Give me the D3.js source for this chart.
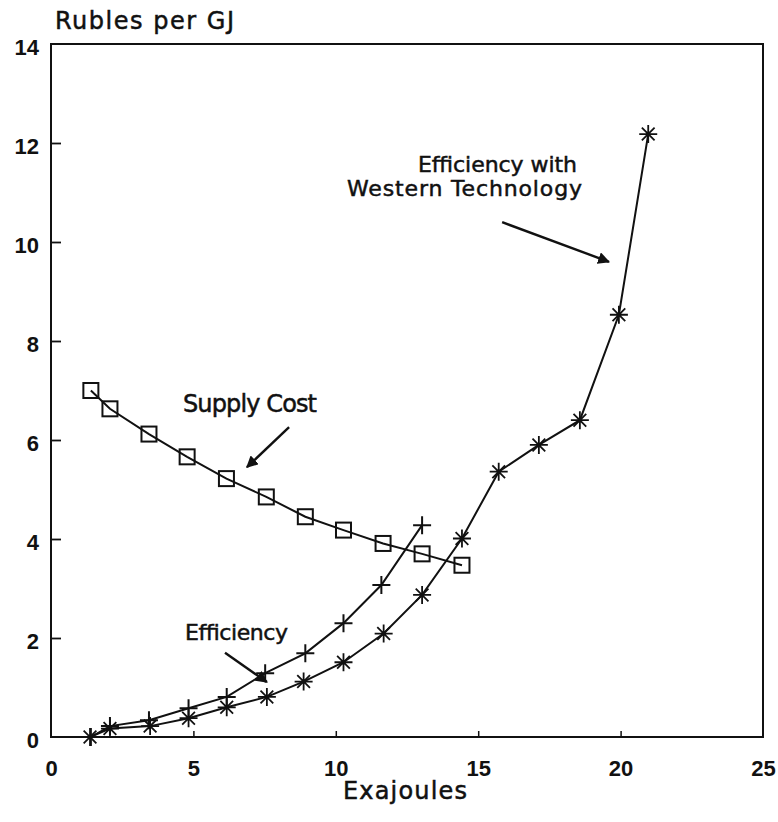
<!DOCTYPE html>
<html>
<head>
<meta charset="utf-8">
<script src="https://cdn.jsdelivr.net/npm/d3@7"></script>
<style>
  body { margin: 0; background: #fff; }
  svg { display: block; font-family: "Liberation Sans", Arial, sans-serif; }
</style>
</head>
<body>
<div id="chart"></div>
<script>
// values (x in exajoules, y in rubles per GJ)
const supplyX = [1.4, 2.07, 3.44, 4.78, 6.16, 7.56, 8.93, 10.27, 11.66, 13.03, 14.43];
const supplyY = [7.0, 6.63, 6.12, 5.66, 5.22, 4.85, 4.45, 4.18, 3.91, 3.70, 3.47];

const effX = [1.4, 2.07, 3.44, 4.83, 6.17, 7.52, 8.93, 10.27, 11.6, 13.03];
const effY = [0.0, 0.22, 0.34, 0.58, 0.81, 1.29, 1.69, 2.30, 3.07, 4.28];

const westX = [1.37, 2.07, 3.48, 4.83, 6.17, 7.58, 8.87, 10.27, 11.68, 13.03, 14.43, 15.72, 17.13, 18.57, 19.94, 20.97];
const westY = [0.0, 0.17, 0.22, 0.38, 0.60, 0.81, 1.12, 1.51, 2.09, 2.87, 4.01, 5.36, 5.90, 6.40, 8.53, 12.18];

const xTicks = [0, 5, 10, 15, 20, 25];
const yTicks = [0, 2, 4, 6, 8, 10, 12, 14];

// annotation arrows, in data units: [x1, y1, x2, y2]
const arrows = [
  [8.36, 6.26, 6.88, 5.45],
  [6.11, 1.70, 7.58, 1.11],
  [15.84, 10.40, 19.59, 9.60]
];

const W = 778, H = 822;
const margin = {top: 44, right: 15, bottom: 85, left: 51};
const width = W - margin.left - margin.right;
const height = H - margin.top - margin.bottom;

const svg = d3.select('#chart').append('svg')
  .attr('width', W)
  .attr('height', H);

const defs = svg.append('defs');
defs.append('marker')
  .attr('id', 'head')
  .attr('viewBox', '0 0 10 10')
  .attr('refX', 9)
  .attr('refY', 5)
  .attr('markerWidth', 5)
  .attr('markerHeight', 5)
  .attr('orient', 'auto')
  .append('path')
  .attr('d', 'M0,0 L10,5 L0,10 z')
  .attr('fill', '#111');

const g = svg.append('g')
  .attr('transform', `translate(${margin.left},${margin.top})`);

const x = d3.scaleLinear().domain([0, 25]).range([0, width]);
const y = d3.scaleLinear().domain([0, 14]).range([height, 0]);

// axes, ticks pointing inward
const xAxis = g.append('g')
  .attr('transform', `translate(0,${height})`)
  .call(d3.axisBottom(x).tickValues(xTicks).tickSizeInner(-6).tickSizeOuter(0).tickPadding(23));
xAxis.select('.domain').remove();
xAxis.selectAll('.tick line').attr('stroke', '#111').attr('stroke-width', 1.5)
  .filter(d => d === 0 || d === 25).remove();

const yAxis = g.append('g')
  .call(d3.axisLeft(y).tickValues(yTicks).tickSizeInner(-10).tickSizeOuter(0).tickPadding(12));
yAxis.select('.domain').remove();
yAxis.selectAll('.tick line').attr('stroke', '#111').attr('stroke-width', 1.8)
  .filter(d => d === 0 || d === 14).remove();
yAxis.selectAll('.tick text').attr('dy', '0.48em');

g.selectAll('.tick text')
  .attr('fill', '#111')
  .style('font-size', '22px')
  .style('font-weight', 'bold');

// frame
g.append('rect')
  .attr('width', width)
  .attr('height', height)
  .attr('fill', 'none')
  .attr('stroke', '#111')
  .attr('stroke-width', 2);

const line = d3.line().x(d => x(d[0])).y(d => y(d[1]));
const pairs = (xs, ys) => xs.map((v, i) => [v, ys[i]]);

const supply = pairs(supplyX, supplyY);
const eff = pairs(effX, effY);
const west = pairs(westX, westY);

[supply, eff, west].forEach(pts => {
  g.append('path')
    .datum(pts)
    .attr('d', line)
    .attr('fill', 'none')
    .attr('stroke', '#111')
    .attr('stroke-width', 2);
});

// square markers
g.selectAll('.sq')
  .data(supply)
  .enter().append('rect')
  .attr('class', 'sq')
  .attr('x', d => x(d[0]) - 7.5)
  .attr('y', d => y(d[1]) - 7.5)
  .attr('width', 15)
  .attr('height', 15)
  .attr('fill', 'none')
  .attr('stroke', '#111')
  .attr('stroke-width', 2);

// plus markers
g.selectAll('.plus')
  .data(eff)
  .enter().append('path')
  .attr('class', 'plus')
  .attr('d', d => {
    const cx = x(d[0]), cy = y(d[1]);
    return `M${cx - 9},${cy}H${cx + 9}M${cx},${cy - 9}V${cy + 9}`;
  })
  .attr('stroke', '#111')
  .attr('stroke-width', 2);

// asterisk markers
g.selectAll('.star')
  .data(west)
  .enter().append('path')
  .attr('class', 'star')
  .attr('d', d => {
    const cx = x(d[0]), cy = y(d[1]);
    let p = '';
    for (let k = 0; k < 4; k++) {
      const a = k * Math.PI / 4;
      const dx = 9 * Math.cos(a), dy = 9 * Math.sin(a);
      p += `M${cx - dx},${cy - dy}L${cx + dx},${cy + dy}`;
    }
    return p;
  })
  .attr('stroke', '#111')
  .attr('stroke-width', 1.8);

// annotation arrows
g.selectAll('.arrow')
  .data(arrows)
  .enter().append('line')
  .attr('class', 'arrow')
  .attr('x1', d => x(d[0]))
  .attr('y1', d => y(d[1]))
  .attr('x2', d => x(d[2]))
  .attr('y2', d => y(d[3]))
  .attr('stroke', '#111')
  .attr('stroke-width', 2.4)
  .attr('marker-end', 'url(#head)');

// labels
const label = (txt, px, py, len, size) => svg.append('text')
  .attr('x', px)
  .attr('y', py)
  .attr('textLength', len)
  .attr('lengthAdjust', 'spacing')
  .attr('fill', '#111')
  .attr('stroke', '#111')
  .attr('stroke-width', 0.5)
  .style('font-family', '"DejaVu Sans", sans-serif')
  .style('font-size', size + 'px')
  .text(txt);

label('Rubles per GJ', 55, 29, 179, 24);
label('Exajoules', 343, 799, 124, 24);
label('Supply Cost', 183, 412, 134, 24);
label('Efficiency', 185, 640, 103, 22);
label('Efficiency with', 418, 172, 159, 22);
label('Western Technology', 347, 196, 235, 22);
</script>
</body>
</html>
